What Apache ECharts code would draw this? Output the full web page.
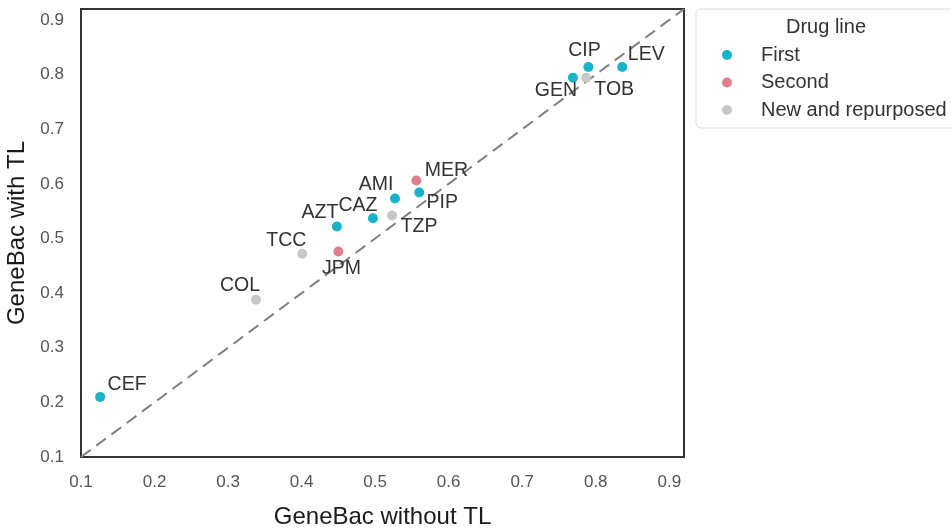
<!DOCTYPE html>
<html>
<head>
<meta charset="utf-8">
<script src="https://cdn.jsdelivr.net/npm/echarts@6/dist/echarts.min.js"></script>
<style>
  html, body { margin: 0; padding: 0; background: #fff; }
  #chart { width: 951px; height: 529px; }
</style>
</head>
<body>
<div id="chart"></div>
<script>
// Drug abbreviations with per-drug scores of the two GeneBac variants
const drugs   = ['CEF', 'COL', 'TCC', 'JPM', 'AZT', 'CAZ', 'TZP', 'AMI', 'PIP', 'MER', 'GEN', 'TOB', 'CIP', 'LEV'];
const withoutTL = [0.126, 0.338, 0.401, 0.450, 0.448, 0.497, 0.523, 0.527, 0.560, 0.556, 0.769, 0.787, 0.790, 0.836];
const withTL    = [0.210, 0.388, 0.472, 0.476, 0.522, 0.537, 0.542, 0.573, 0.584, 0.606, 0.794, 0.794, 0.814, 0.814];
const drugLine  = ['First', 'New and repurposed', 'New and repurposed', 'Second', 'First', 'First', 'New and repurposed',
                   'First', 'First', 'Second', 'First', 'New and repurposed', 'First', 'First'];

const lineGroups = ['First', 'Second', 'New and repurposed'];
const groupColors = { 'First': '#17b3c9', 'Second': '#e07f8b', 'New and repurposed': '#c6c8c8' };

const axisTicks = [0.1, 0.2, 0.3, 0.4, 0.5, 0.6, 0.7, 0.8, 0.9];
const axisMin = 0.1, axisMax = 0.92;

// Label offsets (px) from each point, to keep the annotations apart
const labelOffset = {
  CEF: [27, -12], COL: [-16, -14], TCC: [-16, -13], JPM: [3, 17], AZT: [-17, -14],
  CAZ: [-15, -13], TZP: [27, 11], AMI: [-19, -14], PIP: [23, 10], MER: [30, -10],
  GEN: [-17, 13], TOB: [28, 12], CIP: [-4, -16], LEV: [24, -12]
};

const FONT = "'Liberation Sans', Arial, sans-serif";

const scatterSeries = lineGroups.map(g => ({
  name: g,
  type: 'scatter',
  symbol: 'circle',
  symbolSize: 10,
  z: 3,
  itemStyle: { color: groupColors[g], opacity: 1 },
  data: drugs.map((d, i) => ({ name: d, value: [withoutTL[i], withTL[i]], line: drugLine[i] }))
             .filter(p => p.line === g)
             .map(p => ({
               name: p.name,
               value: p.value,
               label: {
                 show: true,
                 position: 'inside',
                 offset: labelOffset[p.name],
                 formatter: '{b}',
                 color: '#333',
                 fontSize: 19.5,
                 fontFamily: FONT
               }
             }))
}));

const chart = echarts.init(document.getElementById('chart'), null, { renderer: 'canvas' });

const tickFormatter = v => axisTicks.some(t => Math.abs(t - v) < 1e-6) ? v.toFixed(1) : '';

const axisCommon = {
  type: 'value',
  min: axisMin,
  max: axisMax,
  interval: 0.1,
  axisLine: { show: false },
  axisTick: { show: false },
  splitLine: { show: false },
  nameLocation: 'middle',
  nameTextStyle: { fontSize: 24, color: '#1a1a1a', fontFamily: FONT },
};

chart.setOption({
  animation: false,
  backgroundColor: '#fff',
  grid: {
    left: 81, right: 267, top: 9, bottom: 72,
    outerBoundsMode: 'none',
    containLabel: false,
    show: true, borderColor: '#333', borderWidth: 2, backgroundColor: '#fff'
  },
  xAxis: Object.assign({}, axisCommon, {
    name: 'GeneBac without TL',
    nameGap: 48,
    axisLabel: {
      color: '#555', fontSize: 17, fontFamily: FONT, margin: 17, showMaxLabel: false,
      formatter: tickFormatter
    }
  }),
  yAxis: Object.assign({}, axisCommon, {
    name: 'GeneBac with TL',
    nameGap: 49,
    axisLabel: {
      color: '#555', fontSize: 17, fontFamily: FONT, margin: 17, showMaxLabel: false,
      formatter: tickFormatter
    }
  }),
  legend: {
    data: lineGroups,
    orient: 'vertical',
    left: 696,
    top: 9,
    padding: [35, 12, 7, 26],
    itemWidth: 10,
    itemHeight: 10,
    itemGap: 5.5,
    icon: 'circle',
    borderColor: '#dcdcdc',
    borderWidth: 1,
    borderRadius: 5,
    textStyle: { fontSize: 20, color: '#333', fontFamily: FONT, lineHeight: 22, padding: [0, 0, 0, 24] }
  },
  graphic: [{
    type: 'text',
    x: 826, y: 27,
    z: 100,
    style: { text: 'Drug line', fontSize: 20, fill: '#333', fontFamily: FONT, textAlign: 'center', textVerticalAlign: 'middle' }
  }],
  series: [{
    name: 'identity',
    type: 'line',
    data: [[axisMin, axisMin], [axisMax, axisMax]],
    symbol: 'none',
    silent: true,
    z: 1,
    lineStyle: { color: '#808080', width: 2, type: [12, 7] }
  }].concat(scatterSeries)
});
</script>
</body>
</html>
